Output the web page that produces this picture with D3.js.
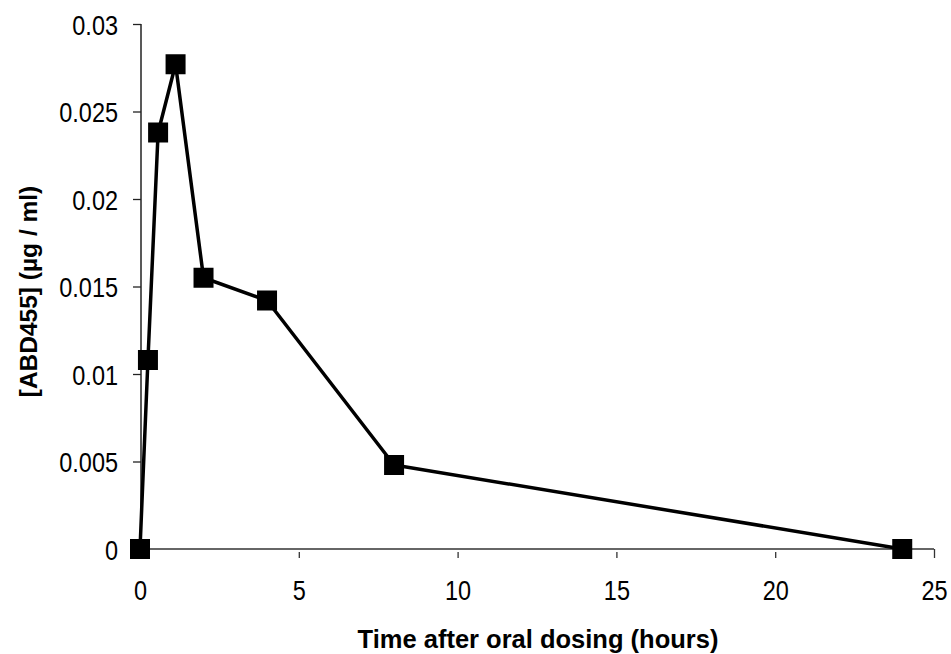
<!DOCTYPE html>
<html>
<head>
<meta charset="utf-8">
<script src="https://cdn.jsdelivr.net/npm/d3@7"></script>
<style>
  html, body { margin: 0; padding: 0; background: #fff; }
  svg { display: block; }
  text { font-family: "Liberation Sans", Arial, sans-serif; fill: #000; }
</style>
</head>
<body>
<svg id="chart" width="951" height="654"></svg>
<script>
const timesHours = [0, 0.25, 0.57, 1.12, 2, 4, 8, 24];
const concentration = [0, 0.0108, 0.0238, 0.0277, 0.0155, 0.0142, 0.0048, 0];
const xTickValues = [0, 5, 10, 15, 20, 25];
const yTickValues = [0, 0.005, 0.01, 0.015, 0.02, 0.025, 0.03];
const xTitle = "Time after oral dosing (hours)";
const yTitle = "[ABD455] (\u00b5g / ml)";

const svg = d3.select("#chart");
const x = d3.scaleLinear().domain([0, 25]).range([140, 934]);
const y = d3.scaleLinear().domain([0, 0.03]).range([549, 24]);
const SY = 1.2;

// Y axis
const yAxis = svg.append("g").attr("transform", "translate(141,0)")
  .call(d3.axisLeft(y).tickValues(yTickValues).tickSize(8).tickPadding(15)
    .tickFormat(d => d3.format("")(+d.toFixed(3))));
yAxis.select(".domain").attr("stroke", "#222").attr("stroke-width", 1.5).attr("d", `M0,${y(0.03)}V${y(0)}`);
yAxis.selectAll(".tick line").attr("stroke", "#222").attr("stroke-width", 1.3);
yAxis.selectAll(".tick text").attr("font-size", 23.5).attr("font-family", "Liberation Sans, Arial, sans-serif")
  .attr("dy", "0.355em").attr("transform", `scale(1,${SY})`);

// X axis
const xAxis = svg.append("g").attr("transform", "translate(0,549)")
  .call(d3.axisBottom(x).tickValues(xTickValues).tickSize(9).tickPadding(18));
xAxis.select(".domain").attr("stroke", "#333").attr("stroke-width", 1.5).attr("d", `M${x(0)},0H${x(25)}`);
xAxis.selectAll(".tick line").attr("stroke", "#333").attr("stroke-width", 1.3)
  .attr("y1", d => d === 25 ? 0 : 3);
xAxis.selectAll(".tick").filter(d => d === 0).select("line").remove();
xAxis.selectAll(".tick text").attr("font-size", 23.5).attr("font-family", "Liberation Sans, Arial, sans-serif")
  .attr("y", 51 / SY).attr("dy", 0).attr("transform", `scale(1,${SY})`);

// Titles
svg.append("text").attr("x", 538).attr("y", 648).attr("text-anchor", "middle")
  .attr("font-size", 25.5).attr("font-weight", "bold").text(xTitle);
svg.append("text").attr("transform", "translate(37,291.5) rotate(-90)").attr("text-anchor", "middle")
  .attr("font-size", 24.5).attr("font-weight", "bold").text(yTitle);

// Line
const data = timesHours.map((t, i) => ({ t, c: concentration[i] }));
svg.append("path").datum(data)
  .attr("fill", "none").attr("stroke", "#000").attr("stroke-width", 3.5).attr("stroke-linejoin", "round")
  .attr("d", d3.line().x(d => x(d.t)).y(d => y(d.c)));

// Markers
const s = 20;
svg.selectAll("rect.m").data(data).enter().append("rect").attr("class", "m")
  .attr("x", d => x(d.t) - s / 2).attr("y", d => y(d.c) - s / 2)
  .attr("width", s).attr("height", s).attr("fill", "#000");
</script>
</body>
</html>
